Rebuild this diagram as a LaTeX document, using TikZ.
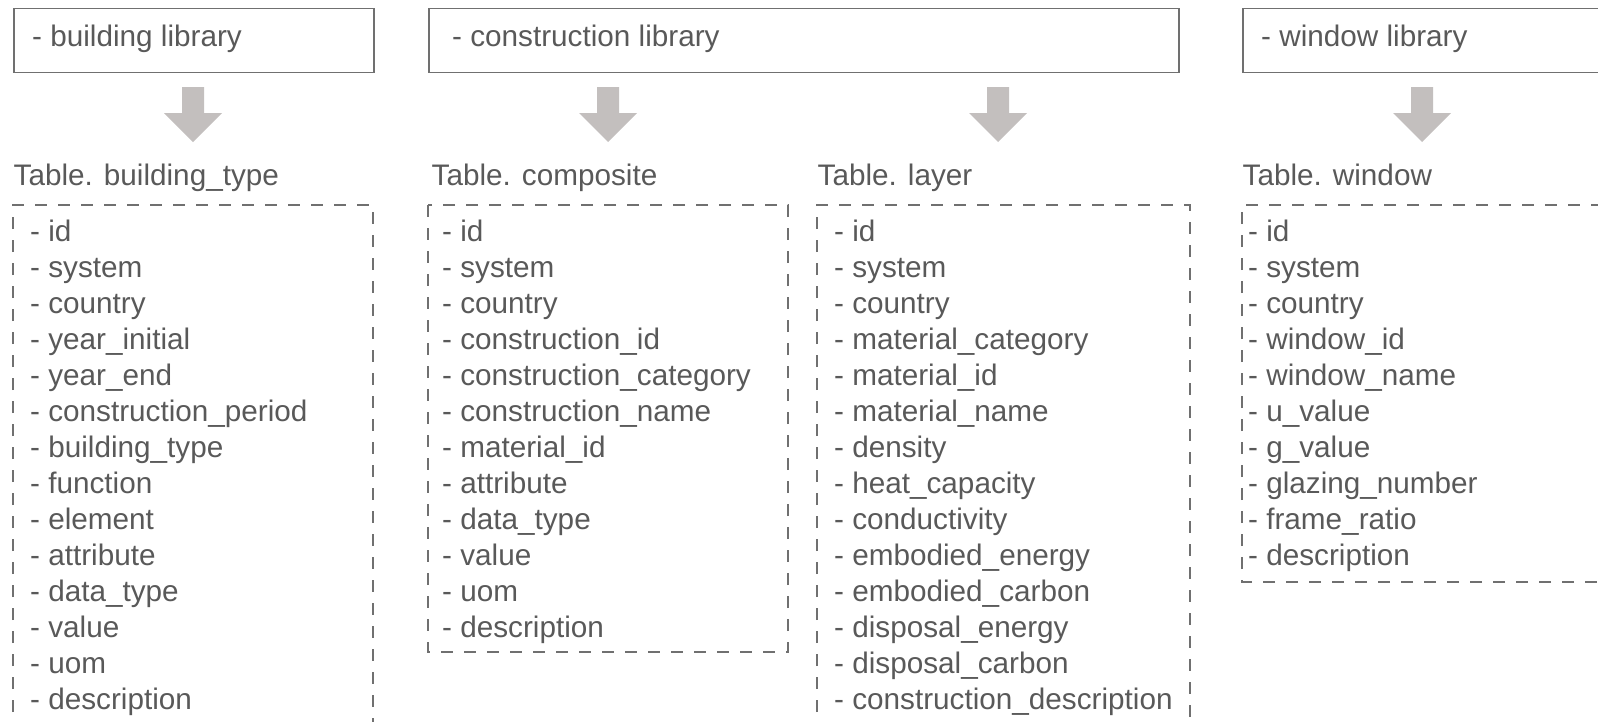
\documentclass[tikz,border=0pt]{standalone}
\usepackage{fontspec}
\setmainfont{Liberation Sans}
\definecolor{txt}{HTML}{595959}
\definecolor{edge}{HTML}{707070}
\definecolor{arrowfill}{HTML}{C3BFBE}

% block arrow pointing down, its top centre at the given coordinate
\newcommand\blockarrowat[1]{%
  \fill[blockarrow] (#1) ++(-11,0) -- ++(22,0) -- ++(0,26) -- ++(18,0)
    -- ++(-29,29) -- ++(-29,-29) -- ++(18,0) -- cycle;}

\begin{document}
\begin{tikzpicture}[x=1pt,y=-1pt,
  lbl/.style={anchor=base west, inner sep=0pt, text=txt,
              font=\fontsize{29.7}{36}\selectfont},
  libbox/.style={draw=edge, line width=1.8pt, anchor=north west,
                 inner sep=0pt, minimum height=64pt},
  tablebox/.style={draw=edge, line width=1.8pt, dash pattern=on 12pt off 11pt},
  blockarrow/.style={fill=arrowfill}]
\useasboundingbox (0,0) rectangle (1598,721);
\clip (0,0) rectangle (1598,721);

% library boxes
\node[libbox, minimum width=360pt] (blib) at (13,7.5) {};
\node[libbox, minimum width=750pt] (clib) at (428,7.5) {};
\node[libbox, minimum width=420pt] (wlib) at (1242,7.5) {};
\node[lbl] (blibtxt) at (32,46) {- building library};
\node[lbl] (clibtxt) at (452,46) {- construction library};
\node[lbl] (wlibtxt) at (1261,46) {- window library};

% arrows from the libraries to the tables
\coordinate (a1) at (193,87);
\coordinate (a2) at (608,87);
\coordinate (a3) at (998,87);
\coordinate (a4) at (1422,87);
\blockarrowat{a1}
\blockarrowat{a2}
\blockarrowat{a3}
\blockarrowat{a4}

% table titles
\node[lbl] (tb) at (13.5,185.5) {Table. building\_type};
\node[lbl] (tc) at (431.5,185.5) {Table. composite};
\node[lbl] (tl) at (817.5,185.5) {Table. layer};
\node[lbl] (tw) at (1242.5,185.5) {Table. window};

% dashed table frames
\draw[tablebox] (13,735) -- (13,205) -- (373,205) -- (373,735);
\draw[tablebox] (428,205) rectangle (788,652);
\draw[tablebox] (817,735) -- (817,205) -- (1190,205) -- (1190,735);
\draw[tablebox] (1620,582) -- (1242,582) -- (1242,205) -- (1620,205);

% table fields
\foreach \f [count=\i from 0] in {id, system, country, year\_initial, year\_end,
    construction\_period, building\_type, function, element, attribute,
    data\_type, value, uom, description}
  \node[lbl] (fb\i) at (30,241.5+36*\i) {- \f};

\foreach \f [count=\i from 0] in {id, system, country, construction\_id,
    construction\_category, construction\_name, material\_id, attribute,
    data\_type, value, uom, description}
  \node[lbl] (fc\i) at (442,241.5+36*\i) {- \f};

\foreach \f [count=\i from 0] in {id, system, country, material\_category,
    material\_id, material\_name, density, heat\_capacity, conductivity,
    embodied\_energy, embodied\_carbon, disposal\_energy, disposal\_carbon,
    construction\_description}
  \node[lbl] (fl\i) at (834,241.5+36*\i) {- \f};

\foreach \f [count=\i from 0] in {id, system, country, window\_id,
    window\_name, u\_value, g\_value, glazing\_number, frame\_ratio,
    description}
  \node[lbl] (fw\i) at (1248,241.5+36*\i) {- \f};
\end{tikzpicture}
\end{document}
